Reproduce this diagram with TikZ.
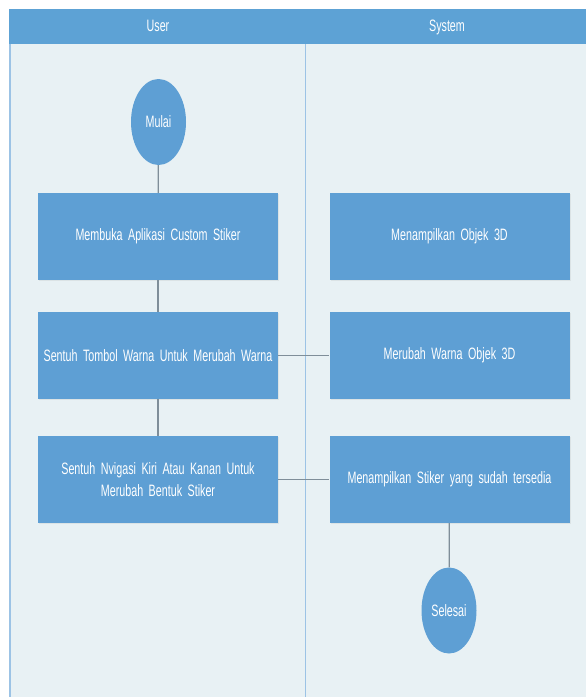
\documentclass[tikz,border=0pt]{standalone}
\usepackage{fontspec}
\setmainfont{Liberation Sans}[FakeStretch=0.65]
\usetikzlibrary{shapes.geometric,shadows}
\definecolor{hdr}{HTML}{5DA2D5}
\definecolor{boxc}{HTML}{5E9FD4}
\definecolor{lanebg}{HTML}{E8F1F4}
\definecolor{laneln}{HTML}{9CC3E5}
\definecolor{conn}{HTML}{7F8E99}
\newcommand\diagfont{\fontsize{16.5}{22}\selectfont}
\tikzset{
  actbox/.style={rectangle, fill=boxc, text=white, minimum width=240pt, minimum height=87pt,
    text width=240pt, align=center, inner sep=0pt, font=\diagfont,
    drop shadow={opacity=0.12, shadow xshift=1pt, shadow yshift=-1pt}},
  term/.style={ellipse, fill=boxc, text=white, minimum width=55pt, minimum height=86pt, inner sep=0pt,
    font=\diagfont},
  lanehdr/.style={text=white, font=\diagfont, text height=12pt, text depth=3pt},
  link/.style={draw=conn, line width=1.3pt}
}
\begin{document}
\begin{tikzpicture}[x=1pt,y=-1pt]
\useasboundingbox (0,0) rectangle (586,697);
\fill[white] (0,0) rectangle (586,697);
\fill[lanebg] (9,9) rectangle (586,697);
\fill[hdr] (9,9) rectangle (586,44);
\draw[laneln, line width=1.5pt] (10,44) -- (10,697);
\draw[laneln, line width=1.5pt] (305.5,44) -- (305.5,697);
\node[lanehdr] (hu) at (158,27) {User};
\node[lanehdr] (hs) at (447,27) {System};

\node[term] (mulai) at (158.5,122) {Mulai};
\node[actbox] (a1) at (158,236.5) {Membuka Aplikasi Custom Stiker};
\node[actbox] (a2) at (158,355.5) {Sentuh Tombol Warna Untuk Merubah Warna};
\node[actbox] (a3) at (158,479.5) {Sentuh Nvigasi Kiri Atau Kanan Untuk\\Merubah Bentuk Stiker};
\node[actbox] (b1) at (449.5,236.5) {Menampilkan Objek 3D};
\node[actbox] (b2) at (449.5,355.5) {Merubah Warna Objek 3D};
\node[actbox] (b3) at (449.5,479.5) {Menampilkan Stiker yang sudah tersedia};
\node[term] (selesai) at (449,610.5) {Selesai};

\draw[link] (mulai) -- (a1);
\draw[link] (a1) -- (a2);
\draw[link] (a2) -- (a3);
\draw[link] (a2) -- (b2);
\draw[link] (a3) -- (b3);
\draw[link] (b3) -- (selesai);
\end{tikzpicture}
\end{document}
